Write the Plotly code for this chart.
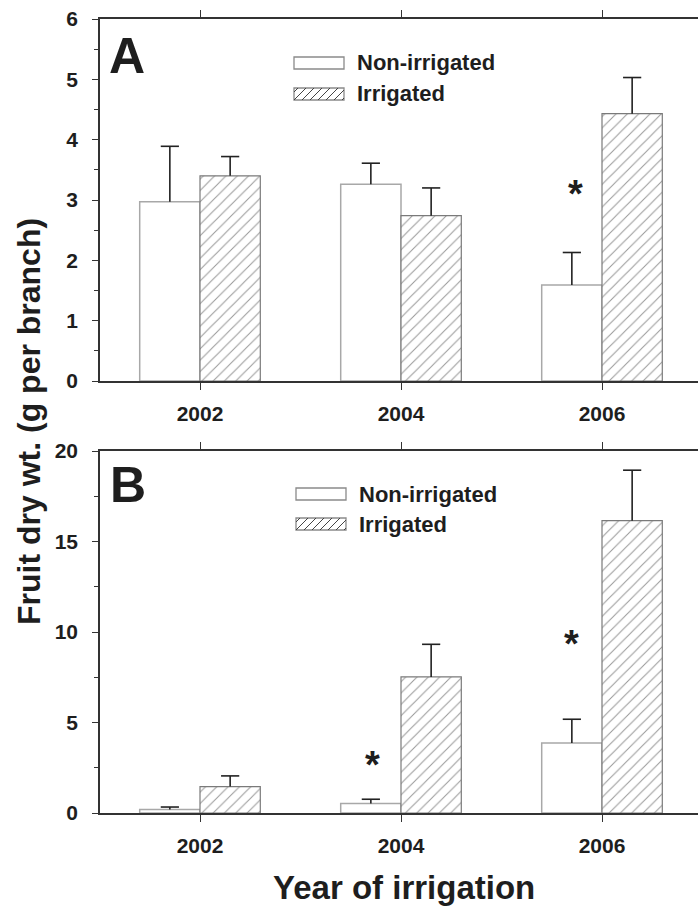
import plotly.graph_objects as go

years = ["2002", "2004", "2006"]
series_names = ["Non-irrigated", "Irrigated"]

a_non = [2.97, 3.26, 1.59]
a_non_err = [0.92, 0.35, 0.54]
a_irr = [3.40, 2.74, 4.43]
a_irr_err = [0.32, 0.46, 0.60]

b_non = [0.19, 0.52, 3.87]
b_non_err = [0.14, 0.24, 1.31]
b_irr = [1.46, 7.52, 16.15]
b_irr_err = [0.59, 1.80, 2.79]

# significance markers: panel, x position (category index units), y value
sig_panel = ["A", "B", "B"]
sig_x = [1.87, 0.86, 1.85]
sig_y = [3.2, 3.0, 9.66]

W, H = 698, 906
L, R, T, B = 100, 0, 19, 93
PW, PH = W - L - R, H - T - B

FONT = "Liberation Sans, Arial, Helvetica, sans-serif"
TXT = "#1e1e1e"
AX = "#333333"

BARGAP = 0.4
HALF = (1 - BARGAP) / 4  # centre offset of each bar in a group


def px(x):
    return (x - L) / PW


def py(y):
    return (H - B - y) / PH


fig = go.Figure()
idx = list(range(len(years)))


def add_panel(non, non_err, irr, irr_err, xa, ya):
    for vals, errs, sign, mk in [
        (non, non_err, -1, dict(color="white", line=dict(color="#a8a8a8", width=1.5))),
        (irr, irr_err, 1, dict(color="white", line=dict(color="#7a7a7a", width=1.2),
                               pattern=dict(shape="/", fgcolor="#333333", bgcolor="white",
                                            size=8, solidity=0.13)),),
    ]:
        fig.add_trace(go.Bar(
            x=idx, y=vals, xaxis=xa, yaxis=ya, marker=mk,
            error_y=dict(type="data", array=errs, arrayminus=[0] * len(errs),
                         symmetric=False, color="#222", thickness=1.6, width=0),
            showlegend=False,
        ))
        # error bar caps (top only)
        fig.add_trace(go.Scatter(
            x=[i + sign * HALF for i in idx], y=[v + e for v, e in zip(vals, errs)],
            xaxis=xa, yaxis=ya, mode="markers",
            marker=dict(symbol="line-ew", size=13, line=dict(color="#222", width=1.6)),
            showlegend=False, hoverinfo="skip",
        ))


add_panel(a_non, a_non_err, a_irr, a_irr_err, "x", "y")
add_panel(b_non, b_non_err, b_irr, b_irr_err, "x2", "y2")

xrange = [-100 / 201, (W - 200) / 201]
tickfont = dict(family=FONT, size=21, color=TXT, weight="bold")

xcommon = dict(type="linear", range=xrange, tickmode="array", tickvals=idx, ticktext=years,
               showline=True, linecolor=AX, linewidth=1.5,
               mirror="ticks", ticks="outside", ticklen=7, tickwidth=1.3, tickcolor=AX,
               showgrid=False, zeroline=False, tickfont=tickfont, ticklabelstandoff=6)
ycommon = dict(showline=True, linecolor=AX, linewidth=1.5, mirror=False,
               ticks="outside", ticklen=6, tickwidth=1.3, tickcolor=AX,
               showgrid=False, zeroline=False, tickfont=tickfont, ticklabelstandoff=10)

fig.update_layout(
    width=W, height=H,
    margin=dict(l=L, r=R, t=T, b=B, autoexpand=False),
    paper_bgcolor="white", plot_bgcolor="white",
    barmode="group", bargap=BARGAP, bargroupgap=0,
    xaxis=dict(**xcommon, domain=[0, 1], anchor="y"),
    yaxis=dict(**ycommon, domain=[py(381), 1], range=[0, 6], dtick=1,
               minor=dict(dtick=0.5, ticks="outside", ticklen=4, tickcolor=AX, tickwidth=1.2)),
    xaxis2=dict(**xcommon, domain=[0, 1], anchor="y2"),
    yaxis2=dict(**ycommon, domain=[0, py(451)], range=[0, 20], dtick=5,
                minor=dict(dtick=2.5, ticks="outside", ticklen=4, tickcolor=AX, tickwidth=1.2)),
    showlegend=False,
)

annotations = []
shapes = []

# panel letters
annotations.append(dict(text="A", x=px(107), y=py(56), xref="paper", yref="paper",
                        xanchor="left", yanchor="middle", showarrow=False,
                        font=dict(family=FONT, size=50, color=TXT, weight="bold")))
annotations.append(dict(text="B", x=px(108), y=py(485), xref="paper", yref="paper",
                        xanchor="left", yanchor="middle", showarrow=False,
                        font=dict(family=FONT, size=50, color=TXT, weight="bold")))

# significance asterisks
for p, xv, yv in zip(sig_panel, sig_x, sig_y):
    annotations.append(dict(text="*", x=xv, y=yv,
                            xref="x" if p == "A" else "x2", yref="y" if p == "A" else "y2",
                            xanchor="center", yanchor="middle", showarrow=False, yshift=-6,
                            font=dict(family=FONT, size=38, color=TXT, weight="bold")))


def legend_block(x0, y_top1, y_top2, text_x):
    bw, bh = 50, 12
    shapes.append(dict(type="rect", xref="paper", yref="paper",
                       x0=px(x0), x1=px(x0 + bw), y0=py(y_top1 + bh), y1=py(y_top1),
                       line=dict(color="#8a8a8a", width=1.3), fillcolor="white"))
    shapes.append(dict(type="rect", xref="paper", yref="paper",
                       x0=px(x0), x1=px(x0 + bw), y0=py(y_top2 + bh), y1=py(y_top2),
                       line=dict(color="#8a8a8a", width=1.3), fillcolor="white"))
    yb, yt = y_top2 + bh, y_top2
    x1 = x0 + bw
    c = x0 - bh + 4
    while c < x1:
        sx, sy = c, yb
        ex, ey = c + bh, yt
        if sx < x0:
            sy = yb - (x0 - c)
            sx = x0
        if ex > x1:
            ey = yb - (x1 - c)
            ex = x1
        if ex > sx:
            shapes.append(dict(type="line", xref="paper", yref="paper",
                               x0=px(sx), y0=py(sy), x1=px(ex), y1=py(ey),
                               line=dict(color="#444444", width=1)))
        c += 8
    for txt, yc in zip(series_names, [y_top1 + bh / 2, y_top2 + bh / 2]):
        annotations.append(dict(text=txt, x=px(text_x), y=py(yc), xref="paper", yref="paper",
                                xanchor="left", yanchor="middle", showarrow=False,
                                font=dict(family=FONT, size=22, color=TXT, weight="bold")))


legend_block(294, 57, 88, 355)
legend_block(296, 488, 518, 357)

# axis titles
annotations.append(dict(text="Year of irrigation", x=px(404), y=py(887), xref="paper", yref="paper",
                        xanchor="center", yanchor="middle", showarrow=False,
                        font=dict(family=FONT, size=33, color=TXT, weight="bold")))
annotations.append(dict(text="Fruit dry wt. (g per branch)", x=px(29), y=py(422),
                        xref="paper", yref="paper", textangle=-90,
                        xanchor="center", yanchor="middle", showarrow=False,
                        font=dict(family=FONT, size=32, color=TXT, weight="bold")))

fig.update_layout(annotations=annotations, shapes=shapes)

fig.write_html("out.html")
